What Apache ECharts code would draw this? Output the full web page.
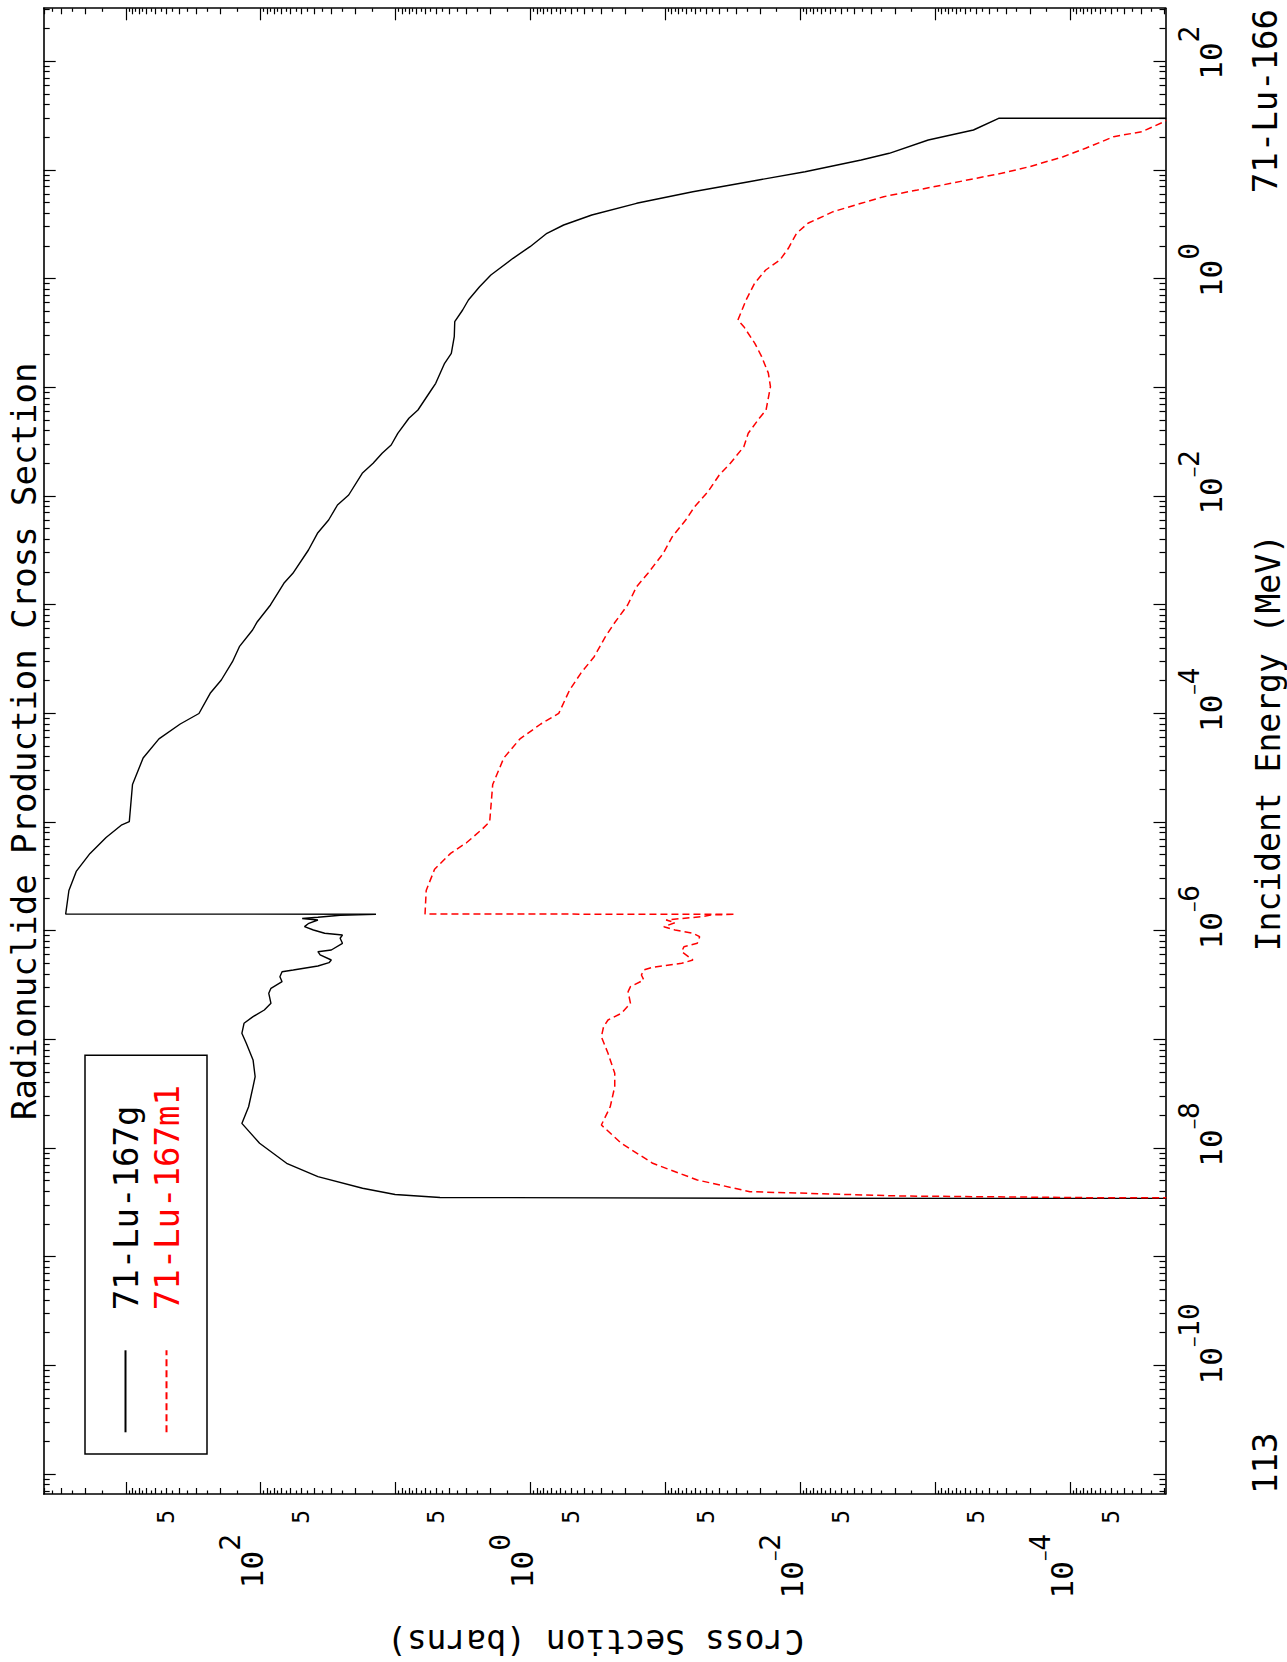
<!DOCTYPE html>
<html>
<head>
<meta charset="utf-8">
<script src="https://cdn.jsdelivr.net/npm/echarts@6/dist/echarts.min.js"></script>
<style>
html,body{margin:0;padding:0;overflow:hidden;background:#fff;width:1287px;height:1662px;}
#chart{position:absolute;left:0;top:0;width:1662px;height:1287px;transform-origin:0 0;transform:translateY(1662px) rotate(-90deg);background:#fff;}
</style>
</head>
<body>
<div id="chart"></div>
<script>
// ---------------- data (incident energy in MeV, cross section in barns) ----------------
const lu167gEnergy = [3.46e-9,3.478e-9,3.537e-9,3.77e-9,4.30e-9,5.50e-9,7.30e-9,1.115e-8,1.70e-8,2.42e-8,3.70e-8,4.57e-8,6.52e-8,9.28e-8,1.147e-7,1.418e-7,1.631e-7,1.879e-7,2.165e-7,2.677e-7,2.976e-7,3.422e-7,3.804e-7,4.23e-7,4.385e-7,4.774e-7,5.12e-7,5.42e-7,6.03e-7,6.46e-7,6.70e-7,7.72e-7,8.59e-7,9.21e-7,9.55e-7,1.023e-6,1.098e-6,1.179e-6,1.265e-6,1.306e-6,1.34e-6,1.397e-6,1.43e-6,1.435e-6,2.363e-6,3.542e-6,5.188e-6,7.266e-6,9.508e-6,1.018e-5,2.234e-5,3.916e-5,5.869e-5,8.045e-5,1.005e-4,1.542e-4,2.044e-4,3.012e-4,4.14e-4,5.898e-4,7.031e-4,1.002e-3,1.586e-3,1.961e-3,3.212e-3,4.574e-3,6.066e-3,8.334e-3,1.030e-2,1.632e-2,2.017e-2,2.492e-2,2.972e-2,3.806e-2,5.233e-2,6.237e-2,9.528e-2,0.1098,0.1678,0.2074,0.2948,0.4052,0.519,0.6417,0.8503,1.09,1.552,1.985,2.636,3.143,3.886,4.977,6.364,7.866,9.723,12.46,14.36,19.03,23.52,30.15,30.2];
const lu167gXS = [1e-7,2.37e-2,4.69,10.1,17.6,37.7,64.3,102,138,123,114,110,114,128,138,133,114,94.1,84.0,87.2,84.0,69.5,72.1,69.5,57.4,37.7,31.2,30.0,36.3,37.7,30.0,24.8,25.8,24.8,33.6,40.7,47.4,44.0,37.7,49.3,37.7,25.8,14.0,2790,2640,2330,1840,1400,1070,942,892,744,568,395,287,237,196,162,144,115,106,84.7,67.4,57.8,44.3,38.0,31.4,27.0,22.3,17.7,14.7,12.6,10.8,9.65,7.98,6.84,5.45,5.05,4.34,3.87,3.68,3.65,3.19,2.89,2.39,1.97,1.35,1.01,0.757,0.569,0.352,0.164,0.0628,0.0241,0.00925,0.00355,0.00220,0.00113,5.23e-4,3.40e-4,1e-7];
const lu167m1Energy = [3.46e-9,3.516e-9,3.652e-9,4.00e-9,5.125e-9,7.30e-9,1.115e-8,1.643e-8,2.422e-8,3.70e-8,4.914e-8,7.508e-8,1.067e-7,1.319e-7,1.521e-7,1.752e-7,2.165e-7,2.77e-7,3.079e-7,3.549e-7,3.946e-7,4.385e-7,4.644e-7,5.054e-7,5.42e-7,6.46e-7,7.186e-7,7.72e-7,8.882e-7,9.545e-7,1.023e-6,1.098e-6,1.195e-6,1.265e-6,1.357e-6,1.406e-6,1.43e-6,1.435e-6,2.363e-6,3.703e-6,5.188e-6,6.495e-6,8.70e-6,1.018e-5,2.234e-5,3.916e-5,5.869e-5,8.045e-5,1.007e-4,1.654e-4,2.356e-4,3.348e-4,5.117e-4,6.797e-4,1.002e-3,1.476e-3,1.961e-3,2.995e-3,4.258e-3,6.066e-3,8.04e-3,1.105e-2,1.574e-2,2.017e-2,2.867e-2,3.806e-2,5.233e-2,6.237e-2,0.1022,0.1358,0.193,0.2563,0.3643,0.420,0.6417,0.914,1.211,1.497,1.919,2.636,3.258,4.167,4.977,5.726,6.598,7.604,9.399,10.81,13.36,15.97,20.41,22.69,28.05,30.15,30.2];
const lu167m1XS = [1e-8,6.03e-5,1.83e-3,2.37e-2,5.82e-2,0.1245,0.2125,0.299,0.257,0.238,0.238,0.267,0.299,0.288,0.267,0.2125,0.182,0.1895,0.182,0.145,0.151,0.145,0.1245,0.0759,0.0627,0.0759,0.0731,0.0582,0.0559,0.0627,0.0851,0.103,0.0851,0.0991,0.0539,0.0463,0.0304,6.06,5.94,5.15,3.92,2.99,2.28,2.01,1.91,1.58,1.20,0.841,0.619,0.514,0.425,0.338,0.279,0.240,0.191,0.164,0.135,0.104,0.0891,0.0709,0.0609,0.0485,0.0400,0.0331,0.0263,0.0244,0.0202,0.0180,0.0167,0.0173,0.0194,0.0218,0.0263,0.0291,0.0253,0.0219,0.0181,0.0142,0.0123,0.0107,0.00881,0.00573,0.00355,0.00242,0.00136,7.67e-4,3.24e-4,2.01e-4,1.13e-4,7.71e-5,4.78e-5,2.96e-5,2.02e-5,1.8e-5,1e-8];

// ---------------- axes: ranges and tick values ----------------
const energyMin = 6.61e-12, energyMax = 310.0;
const xsMin = 1.973e-5, xsMax = 4059;
const energyDecades = [1e-12,1e-11,1e-10,1e-9,1e-8,1e-7,1e-6,1e-5,1e-4,1e-3,1e-2,1e-1,1,10,100];
const energyLabelTicks = [1e-10,1e-8,1e-6,1e-4,1e-2,1,100];
const xsDecades = [1e-6,1e-5,1e-4,1e-3,1e-2,1e-1,1,10,100,1000];
const xsLabelTicks = [1e-4,1e-2,1,100];
const xsFiveTicks = [5e-5,5e-4,5e-3,5e-2,0.5,5,50,500];
const minorMultipliers = [2,3,4,5,6,7,8,9];
const halfMultipliers = [1.5,2.5,3.5,4.5,5.5,6.5,7.5,8.5,9.5];

const title = 'Radionuclide Production Cross Section';
const xName = 'Incident Energy (MeV)';
const yName = 'Cross Section (barns)';
const targetText = '71-Lu-166';
const matText = '113';
const names = ['71-Lu-167g', '71-Lu-167m1'];

// ---------------- build ----------------
const FONT = 'DejaVu Sans Mono';
function spread(decades, mults) {
  const out = [];
  decades.forEach(d => mults.forEach(m => out.push(Number((d * m).toPrecision(4)))));
  return out;
}
const energyMinor = spread(energyDecades, minorMultipliers);
const xsMinor = spread(xsDecades, minorMultipliers);
const xsHalf = spread(xsDecades, halfMultipliers);

const richDec = {
  sp1: {width: 18, fontSize: 31, fontFamily: FONT},
  sp2: {width: 28, fontSize: 31, fontFamily: FONT},
  sp3: {width: 44, fontSize: 31, fontFamily: FONT},
  b: {fontSize: 31, fontFamily: FONT, color: '#000', padding: [20, 0, 0, 0]},
  m: {fontSize: 17, fontFamily: FONT, color: '#000', padding: [10, 0, 24, 0]},
  e: {fontSize: 28, fontFamily: FONT, color: '#000', padding: [0, 0, 23, 0]}
};
function decLabel(v, withSpacer) {
  const n = Math.round(Math.log10(v));
  const neg = n < 0;
  const digits = String(Math.abs(n));
  let sp = '';
  if (withSpacer) sp = neg ? (digits.length > 1 ? '{sp3| }' : '{sp2| }') : '{sp1| }';
  return sp + '{b|10}' + (neg ? '{m|\u2212}' : '') + '{e|' + digits + '}';
}

const lineBlack = {color: '#000', width: 1.6};
const tickStyle = {color: '#000', width: 1.2};

function baseAxis(min, max, pos) {
  return {
    type: 'log', logBase: 10, min: min, max: max, position: pos, gridIndex: 0,
    splitLine: {show: false}, minorTick: {show: false}, minorSplitLine: {show: false},
    axisLine: {show: false}, axisTick: {show: false}, axisLabel: {show: false}
  };
}
function tickAxis(min, max, pos, values, len, withLine) {
  const a = baseAxis(min, max, pos);
  a.axisTick = {show: true, inside: true, length: len, customValues: values, lineStyle: tickStyle};
  if (withLine) a.axisLine = {show: true, onZero: false, lineStyle: lineBlack};
  return a;
}

// x axes (energy)
const xMain = tickAxis(energyMin, energyMax, 'bottom', energyDecades, 12, true);
xMain.axisLabel = {
  show: true, customValues: energyLabelTicks, formatter: v => decLabel(v, true),
  rich: richDec, margin: 10, align: 'center', verticalAlign: 'top'
};
xMain.name = xName;
xMain.nameLocation = 'middle';
xMain.nameGap = 86;
xMain.nameTextStyle = {fontFamily: FONT, fontSize: 33, color: '#000', padding: [0, 0, 0, 17]};
const xAxes = [
  xMain,
  tickAxis(energyMin, energyMax, 'bottom', energyMinor, 6, false),
  tickAxis(energyMin, energyMax, 'top', energyDecades, 12, true),
  tickAxis(energyMin, energyMax, 'top', energyMinor, 6, false)
];

// y axes (cross section)
const yMain = tickAxis(xsMin, xsMax, 'left', xsDecades, 12, true);
yMain.axisLabel = {
  show: true, customValues: xsLabelTicks, formatter: v => decLabel(v, false),
  rich: richDec, margin: 40, align: 'right', verticalAlign: 'middle', padding: [0, 0, 37, 0]
};
yMain.name = yName;
yMain.nameLocation = 'middle';
yMain.nameRotate = 90;
yMain.nameGap = 131;
yMain.nameTextStyle = {fontFamily: FONT, fontSize: 33, color: '#000', padding: [0, 0, 0, 18]};
const yMinor = tickAxis(xsMin, xsMax, 'left', xsMinor, 6, false);
yMinor.axisLabel = {
  show: true, customValues: xsFiveTicks, formatter: () => '5',
  fontFamily: FONT, fontSize: 23, color: '#000', margin: 16, align: 'right',
  verticalAlign: 'middle', padding: [0, 0, 14, 0]
};
const yAxes = [
  yMain,
  yMinor,
  tickAxis(xsMin, xsMax, 'left', xsHalf, 3.5, false),
  tickAxis(xsMin, xsMax, 'right', xsDecades, 12, true),
  tickAxis(xsMin, xsMax, 'right', xsMinor, 6, false),
  tickAxis(xsMin, xsMax, 'right', xsHalf, 3.5, false)
];

const zip = (a, b) => a.map((v, i) => [v, b[i]]);

const chart = echarts.init(document.getElementById('chart'), null, {renderer: 'svg', width: 1662, height: 1287});
chart.setOption({
  animation: false,
  backgroundColor: '#fff',
  title: {
    text: title, left: 542, top: 6.5, padding: 0,
    textStyle: {fontFamily: FONT, fontSize: 34, fontWeight: 'normal', color: '#000', lineHeight: 34}
  },
  grid: {left: 168, top: 43.7, right: 8.3, bottom: 121.5, containLabel: false, outerBoundsMode: 'none'},
  legend: {
    orient: 'vertical', left: 208, top: 85, padding: [20, 30, 20, 20.7], itemGap: 0,
    itemWidth: 82, itemHeight: 14, borderColor: '#000', borderWidth: 1.5, borderRadius: 0,
    selectedMode: false,
    itemStyle: {opacity: 0, borderWidth: 0},
    textStyle: {fontFamily: FONT, fontSize: 34, lineHeight: 31, padding: [0, 0, 10, 35]},
    data: [
      {name: names[0], textStyle: {color: '#000'}},
      {name: names[1], textStyle: {color: '#ff0000'}}
    ]
  },
  xAxis: xAxes,
  yAxis: yAxes,
  graphic: [
    {type: 'text', x: 1653, y: 1265, style: {text: targetText, fontFamily: FONT, fontSize: 34, fill: '#000', align: 'right', verticalAlign: 'middle'}},
    {type: 'text', x: 168, y: 1265, style: {text: matText, fontFamily: FONT, fontSize: 34, fill: '#000', align: 'left', verticalAlign: 'middle'}}
  ],
  series: [
    {
      name: names[0], type: 'line', xAxisIndex: 0, yAxisIndex: 0, symbol: 'none', clip: true,
      lineStyle: {color: '#000', width: 1.4, type: 'solid'}, itemStyle: {color: '#000'},
      data: zip(lu167gEnergy, lu167gXS)
    },
    {
      name: names[1], type: 'line', xAxisIndex: 0, yAxisIndex: 0, symbol: 'none', clip: true,
      lineStyle: {color: '#ff0000', width: 1.5, type: [7, 4]}, itemStyle: {color: '#ff0000'},
      data: zip(lu167m1Energy, lu167m1XS)
    }
  ]
});
</script>
</body>
</html>
